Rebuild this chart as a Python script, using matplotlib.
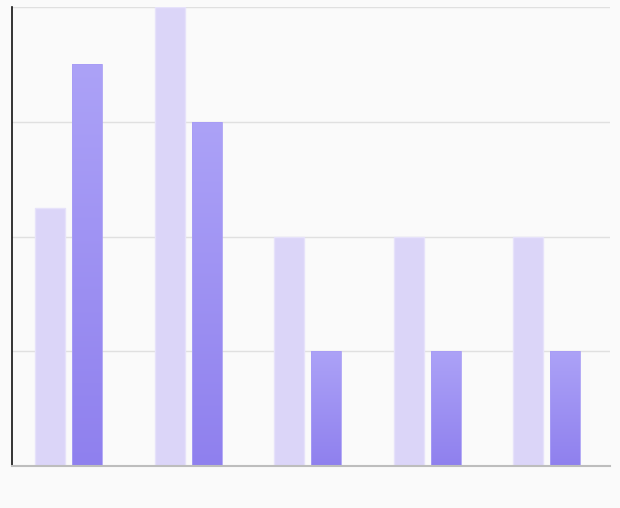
import numpy as np
import matplotlib.pyplot as plt
from matplotlib.colors import LinearSegmentedColormap

# Data
categories = ['A', 'B', 'C', 'D', 'E']
series_light = [4.5, 8, 4, 4, 4]
series_dark = [7, 6, 2, 2, 2]

fig = plt.figure(figsize=(6.2, 5.08), dpi=100)
fig.patch.set_facecolor('#fafafa')
ax = fig.add_axes([12 / 620, 1 - 466 / 508, 598 / 620, 459 / 508])
ax.set_facecolor('#fafafa')

x = np.arange(len(categories))
w = 0.251
off = 0.155

ax.bar(x - off, series_light, width=w, color='#dbd5f8', edgecolor='#e6e2fa',
       linewidth=1, zorder=3)
dark = ax.bar(x + off, series_dark, width=w, color='none', edgecolor='#a89df5',
              linewidth=0.6, zorder=3)

# gradient fill for the dark bars
cmap = LinearSegmentedColormap.from_list('grad', ['#8f80ee', '#aca2f7'])
grad = np.linspace(0, 1, 256).reshape(-1, 1)
for rect in dark:
    x0 = rect.get_x()
    h = rect.get_height()
    im = ax.imshow(grad, cmap=cmap, origin='lower', aspect='auto',
                   extent=(x0, x0 + rect.get_width(), 0, h), zorder=2.9)
    im.set_clip_path(rect)

ax.set_xlim(-0.473, 4.531)
ax.set_ylim(0, 8)
ax.set_yticks([0, 2, 4, 6, 8])
ax.grid(axis='y', color='#e0e0e0', linewidth=1, zorder=0)
ax.tick_params(left=False, bottom=False, labelleft=False, labelbottom=False)
ax.set_xticks([])

for s in ['top', 'right']:
    ax.spines[s].set_visible(False)
ax.spines['left'].set_color('#111111')
ax.spines['left'].set_linewidth(1.2)
ax.spines['bottom'].set_color('#bdbdbd')
ax.spines['bottom'].set_linewidth(1.5)
ax.spines['left'].set_zorder(4)
ax.spines['bottom'].set_zorder(4)

fig.savefig('out.png', dpi=100, facecolor=fig.get_facecolor())
